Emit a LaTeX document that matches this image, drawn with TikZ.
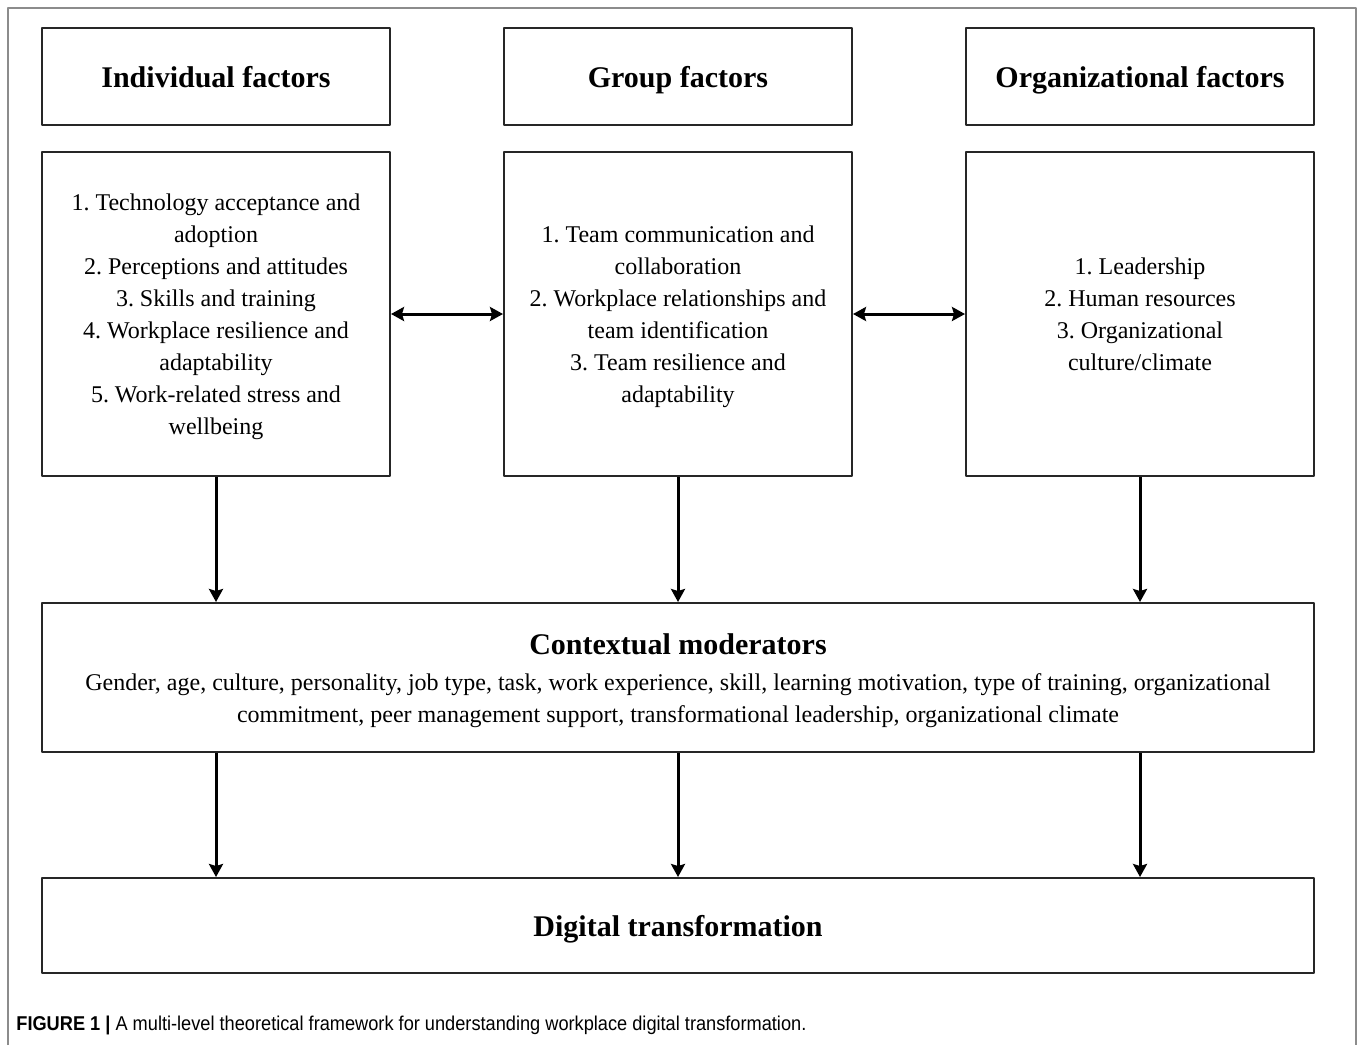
\documentclass[tikz,border=0pt]{standalone}
\usepackage{fontspec}
\setmainfont{Liberation Serif}
\newfontfamily\capfont[FakeStretch=0.91]{Liberation Sans}
\usetikzlibrary{arrows.meta}
\frenchspacing
\begin{document}
\begin{tikzpicture}[x=0.5pt, y=-0.5pt, line join=round, >={Stealth[length=6.5pt,width=7pt,inset=1pt]},
	box/.style={draw=black!85, line width=1pt, inner sep=0pt, align=center, font=\fontsize{12}{16}\selectfont},
	title/.style={text height=10.5pt, text depth=0pt, font=\fontsize{15}{18}\selectfont\bfseries},
	head/.style={box, title, minimum width=174pt, minimum height=48.5pt},
	list/.style={box, minimum width=174pt, minimum height=162pt},
	wide/.style={box, minimum width=636pt},
	link/.style={->, line width=1.5pt}]
	\useasboundingbox (0,0) rectangle (1358,1045);
	\draw[black!45, line width=0.6pt] (8,1045) -- (8,8) -- (1356,8) -- (1356,1045);
	% three levels
	\node[head] (indh) at (216,76.5) {Individual factors};
	\node[head] (grph) at (678,76.5) {Group factors};
	\node[head] (orgh) at (1140,76.5) {Organizational factors};
	\node[list] (ind) at (216,314) {\rule{0pt}{11.2pt}1. Technology acceptance and\\ adoption\\ 2. Perceptions and attitudes\\ 3. Skills and training\\ 4. Workplace resilience and\\ adaptability\\ 5. Work-related stress and\\ wellbeing};
	\node[list] (grp) at (678,314) {\rule{0pt}{11.2pt}1. Team communication and\\ collaboration\\ 2. Workplace relationships and\\ team identification\\ 3. Team resilience and\\ adaptability};
	\node[list] (org) at (1140,314) {1. Leadership\\ 2. Human resources\\ 3. Organizational\\ culture/climate};
	% moderators and outcome
	\node[wide, minimum height=74.5pt] (ctx) at (678,677.5) {{\fontsize{15}{18}\selectfont\bfseries\rule{0pt}{13.5pt}Contextual moderators}\\[2pt] Gender, age, culture, personality, job type, task, work experience, skill, learning motivation, type of training, organizational\\ commitment, peer management support, transformational leadership, organizational climate};
	\node[wide, title, minimum height=47.5pt] (dig) at (678,925.5) {Digital transformation};
	\draw[link, <->] (ind) -- (grp);
	\draw[link, <->] (grp) -- (org);
	\foreach \n in {ind,grp,org}{
		\draw[link] (\n.south) -- (\n.south |- ctx.north);
		\draw[link] (ctx.south -| \n) -- (dig.north -| \n);
	}
	\node[anchor=west, inner sep=0pt, font=\capfont\fontsize{10}{12}\selectfont] (cap) at (16,1025) {\textbf{FIGURE 1 |} A multi-level theoretical framework for understanding workplace digital transformation.};
\end{tikzpicture}
\end{document}
